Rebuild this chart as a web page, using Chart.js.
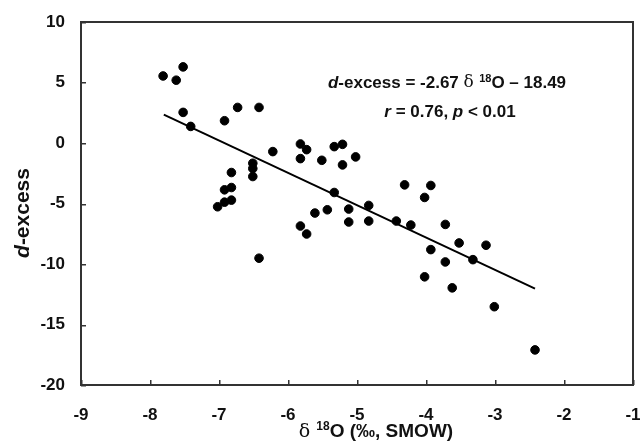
<!DOCTYPE html>
<html>
<head>
<meta charset="utf-8">
<script src="https://cdn.jsdelivr.net/npm/chart.js@4"></script>
<style>
  html, body { margin: 0; padding: 0; background: #fff; }
  #wrap { width: 642px; height: 448px; }
</style>
</head>
<body>
<div id="wrap"><canvas id="chart" width="642" height="448"></canvas></div>
<script>
// δ18O vs d-excess samples
const d18O = [
  -7.81, -7.62, -7.52, -7.52, -7.41, -6.92, -6.73, -6.42, -6.22, -5.82,
  -5.73, -5.82, -5.51, -5.33, -5.21, -5.21, -5.02, -6.51, -6.51, -6.51,
  -6.82, -6.92, -6.82, -6.92, -6.82, -7.02, -5.33, -5.61, -5.43, -5.12,
  -5.12, -4.83, -4.83, -5.82, -5.73, -6.42, -4.43, -4.22, -4.31, -4.02,
  -3.93, -3.93, -3.72, -3.52, -3.13, -3.32, -3.72, -4.02, -3.62, -3.01,
  -2.42
];
const dExcess = [
  5.54, 5.19, 6.29, 2.53, 1.37, 1.84, 2.94, 2.94, -0.71, -0.08,
  -0.55, -1.29, -1.43, -0.30, -0.11, -1.81, -1.15, -1.67, -2.11, -2.77,
  -2.44, -3.87, -3.68, -4.89, -4.72, -5.27, -4.09, -5.79, -5.52, -5.46,
  -6.53, -5.16, -6.45, -6.86, -7.52, -9.52, -6.45, -6.78, -3.46, -4.50,
  -3.51, -8.81, -6.73, -8.26, -8.45, -9.64, -9.83, -11.06, -11.97, -13.53,
  -17.10
];
// regression line end points (d-excess = -2.67 δ18O - 18.49)
const fitX = [-7.8, -2.42];
const fitY = [2.34, -12.03];

const xTicks = [-9, -8, -7, -6, -5, -4, -3, -2, -1];
const yTicks = [10, 5, 0, -5, -10, -15, -20];

const FONT = '"Liberation Sans", Arial, Helvetica, sans-serif';

// draw a row of text pieces with different fonts
function drawRuns(ctx, runs, x, y, align) {
  let total = 0;
  runs.forEach(r => { ctx.font = r.font; r.w = ctx.measureText(r.t).width; total += r.w; });
  let cx = align === 'center' ? x - total / 2 : x;
  ctx.textBaseline = 'middle';
  ctx.textAlign = 'left';
  runs.forEach(r => {
    ctx.font = r.font;
    ctx.fillText(r.t, cx, y + (r.dy || 0));
    cx += r.w;
  });
}

const framePlugin = {
  id: 'frame',
  afterDraw(chart) {
    const ctx = chart.ctx;
    const a = chart.chartArea;
    const xs = chart.scales.x, ys = chart.scales.y;
    const L = Math.round(a.left), R = Math.round(a.right);
    const T = Math.round(a.top), B = Math.round(a.bottom);
    ctx.save();
    ctx.fillStyle = '#333';
    // box round the plot
    ctx.fillRect(L - 1, T - 1, R - L + 2, 2);
    ctx.fillRect(L - 1, B - 1, R - L + 2, 2);
    ctx.fillRect(L - 1, T - 1, 2, B - T + 2);
    ctx.fillRect(R - 1, T - 1, 2, B - T + 2);
    // inward tick marks
    xTicks.forEach(v => {
      const px = Math.round(xs.getPixelForValue(v));
      ctx.fillRect(px, B - 5, 1.5, 5);
    });
    yTicks.forEach(v => {
      const py = Math.round(ys.getPixelForValue(v));
      ctx.fillRect(L, py, 5, 1.5);
    });

    ctx.fillStyle = '#111';
    // equation text
    drawRuns(ctx, [
      { t: 'd', font: 'italic bold 17px ' + FONT },
      { t: '-excess = -2.67 ', font: 'bold 17px ' + FONT },
      { t: 'δ ', font: '17px "DejaVu Serif", serif' },
      { t: '18', font: 'bold 11px ' + FONT, dy: -4 },
      { t: 'O \u2013 18.49', font: 'bold 17px ' + FONT }
    ], 447, 83, 'center');
    drawRuns(ctx, [
      { t: 'r', font: 'italic bold 17px ' + FONT },
      { t: ' = 0.76, ', font: 'bold 17px ' + FONT },
      { t: 'p', font: 'italic bold 17px ' + FONT },
      { t: ' < 0.01', font: 'bold 17px ' + FONT }
    ], 450, 112, 'center');

    // x axis title
    drawRuns(ctx, [
      { t: 'δ ', font: '19px "DejaVu Serif", serif' },
      { t: '18', font: 'bold 12px ' + FONT, dy: -5 },
      { t: 'O (‰, SMOW)', font: 'bold 19px ' + FONT }
    ], 376, 432, 'center');

    // y axis title
    ctx.save();
    ctx.translate(23, 213);
    ctx.rotate(-Math.PI / 2);
    drawRuns(ctx, [
      { t: 'd', font: 'italic bold 21px ' + FONT },
      { t: '-excess', font: 'bold 21px ' + FONT }
    ], 0, 0, 'center');
    ctx.restore();
    ctx.restore();
  }
};

new Chart(document.getElementById('chart'), {
  type: 'scatter',
  data: {
    datasets: [
      {
        label: 'samples',
        data: d18O.map((x, i) => ({ x: x, y: dExcess[i] })),
        backgroundColor: '#000',
        borderColor: '#000',
        pointRadius: 4.3,
        pointHoverRadius: 4.3
      },
      {
        label: 'fit',
        type: 'line',
        data: fitX.map((x, i) => ({ x: x, y: fitY[i] })),
        borderColor: '#000',
        borderWidth: 2,
        pointRadius: 0,
        fill: false
      }
    ]
  },
  options: {
    responsive: false,
    animation: false,
    events: [],
    layout: { padding: { top: 22, right: 9, left: 0, bottom: 0 } },
    plugins: { legend: { display: false }, tooltip: { enabled: false } },
    scales: {
      x: {
        type: 'linear',
        min: -9, max: -1,
        afterBuildTicks: s => { s.ticks = xTicks.map(v => ({ value: v })); },
        afterFit: s => { s.height = 63; s.paddingLeft = 0; s.paddingRight = 0; },
        grid: { display: false, drawTicks: false },
        border: { display: false },
        ticks: {
          color: '#111',
          padding: 20,
          font: { family: FONT, size: 17, weight: 'bold' }
        }
      },
      y: {
        type: 'linear',
        min: -20, max: 10,
        afterBuildTicks: s => { s.ticks = yTicks.map(v => ({ value: v })); },
        afterFit: s => { s.width = 81; s.paddingTop = 0; s.paddingBottom = 0; },
        grid: { display: false, drawTicks: false },
        border: { display: false },
        ticks: {
          color: '#111',
          padding: 16,
          font: { family: FONT, size: 17, weight: 'bold' }
        }
      }
    }
  },
  plugins: [framePlugin]
});
</script>
</body>
</html>
